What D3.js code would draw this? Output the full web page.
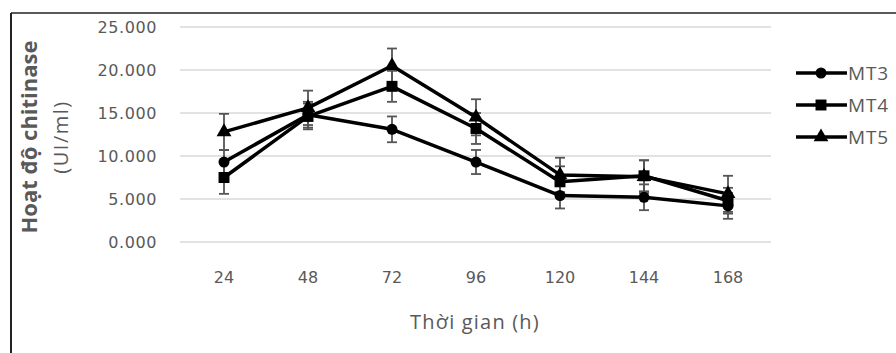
<!DOCTYPE html>
<html><head><meta charset="utf-8">
<script src="https://cdn.jsdelivr.net/npm/d3@7"></script>
<style>body{margin:0;background:#fff}svg{display:block}</style>
</head><body>
<script>
const categories = ["24","48","72","96","120","144","168"];
const seriesNames = ["MT3","MT4","MT5"];
const mt3 = [9.3, 14.8, 13.1, 9.3, 5.4, 5.2, 4.2];
const mt4 = [7.5, 14.6, 18.1, 13.2, 7.0, 7.7, 4.8];
const mt5 = [12.8, 15.6, 20.5, 14.5, 7.8, 7.6, 5.6];
const err3 = [1.4, 1.5, 1.5, 1.4, 1.5, 1.5, 1.5];
const err4 = [1.9, 1.5, 1.8, 1.8, 1.8, 1.8, 1.5];
const err5 = [2.1, 2.0, 2.0, 2.1, 2.0, 1.9, 2.1];
const yTicks = [0, 5, 10, 15, 20, 25];
const yTitle = "Hoạt độ chitinase";
const yUnit = "(UI/ml)";
const xTitle = "Thời gian (h)";

const W = 896, H = 353;
const svg = d3.select("body").append("svg").attr("width", W).attr("height", H);
svg.append("rect").attr("width", W).attr("height", H).attr("fill", "#fff");
// border
svg.append("line").attr("x1", 11).attr("x2", 11).attr("y1", 13).attr("y2", H)
  .attr("stroke", "#222").attr("stroke-width", 2);
svg.append("line").attr("x1", 11).attr("x2", W).attr("y1", 13).attr("y2", 13)
  .attr("stroke", "#222").attr("stroke-width", 1.5);

const x = d3.scaleBand().domain(categories).range([182, 770]);
const y = d3.scaleLinear().domain([0, 25]).range([242, 27]);
const textCol = "#595959";

// grid
svg.append("g").selectAll("line").data(yTicks).join("line")
  .attr("x1", 180).attr("x2", 771)
  .attr("y1", d => y(d)).attr("y2", d => y(d))
  .attr("stroke", "#d9d9d9").attr("stroke-width", 1.5);

// y axis labels
const yAxis = d3.axisLeft(y).tickValues(yTicks).tickFormat(d3.format(".3f")).tickSize(0).tickPadding(0);
const gy = svg.append("g").attr("transform", "translate(157,0)").call(yAxis);
gy.select(".domain").remove();
gy.selectAll("text").attr("font-family", "DejaVu Sans").attr("font-size", 16)
  .attr("fill", textCol).attr("letter-spacing", 0.6);

// x axis labels
const xAxis = d3.axisBottom(x).tickSize(0).tickPadding(0);
const gx = svg.append("g").attr("transform", "translate(0,272)").call(xAxis);
gx.select(".domain").remove();
gx.selectAll("text").attr("font-family", "DejaVu Sans").attr("font-size", 16)
  .attr("fill", textCol);

// titles
svg.append("text").attr("transform", "translate(37,137) rotate(-90)")
  .attr("text-anchor", "middle").attr("font-family", "Open Sans").attr("font-weight", "bold")
  .attr("font-size", 22).attr("fill", textCol).text(yTitle);
svg.append("text").attr("transform", "translate(68,137) rotate(-90)")
  .attr("text-anchor", "middle").attr("font-family", "Open Sans")
  .attr("font-size", 20).attr("letter-spacing", 1.5).attr("fill", textCol).text(yUnit);
svg.append("text").attr("x", 475).attr("y", 329)
  .attr("text-anchor", "middle").attr("font-family", "Open Sans")
  .attr("font-size", 20).attr("letter-spacing", 1.2).attr("fill", textCol).text(xTitle);

const series = [
  {name: seriesNames[0], vals: mt3, errs: err3, sym: d3.symbolCircle, size: 95},
  {name: seriesNames[1], vals: mt4, errs: err4, sym: d3.symbolSquare, size: 120},
  {name: seriesNames[2], vals: mt5, errs: err5, sym: d3.symbolTriangle, size: 95}
];
const cx = c => x(c) + x.bandwidth() / 2;

// error bars
series.forEach(s => {
  const g = svg.append("g").attr("stroke", "#555").attr("stroke-width", 1.8);
  categories.forEach((c, i) => {
    const xc = cx(c), hi = y(s.vals[i] + s.errs[i]), lo = y(s.vals[i] - s.errs[i]);
    g.append("line").attr("x1", xc).attr("x2", xc).attr("y1", hi).attr("y2", lo);
    g.append("line").attr("x1", xc - 5).attr("x2", xc + 5).attr("y1", hi).attr("y2", hi);
    g.append("line").attr("x1", xc - 5).attr("x2", xc + 5).attr("y1", lo).attr("y2", lo);
  });
});

const line = d3.line().x((d, i) => cx(categories[i])).y(d => y(d));
series.forEach(s => {
  svg.append("path").datum(s.vals).attr("d", line)
    .attr("fill", "none").attr("stroke", "#000").attr("stroke-width", 3.5)
    .attr("stroke-linejoin", "round");
  svg.append("g").selectAll("path").data(s.vals).join("path")
    .attr("transform", (d, i) => `translate(${cx(categories[i])},${y(d)})`)
    .attr("d", d3.symbol().type(s.sym).size(s.size)).attr("fill", "#000");
});

// legend
series.forEach((s, i) => {
  const ly = 73 + i * 32;
  const g = svg.append("g");
  g.append("line").attr("x1", 796).attr("x2", 847).attr("y1", ly).attr("y2", ly)
    .attr("stroke", "#000").attr("stroke-width", 3.5);
  g.append("path").attr("transform", `translate(821,${ly})`)
    .attr("d", d3.symbol().type(s.sym).size(s.size)).attr("fill", "#000");
  g.append("text").attr("x", 848).attr("y", ly + 7).attr("font-family", "Open Sans")
    .attr("font-size", 19).attr("letter-spacing", 0.8).attr("fill", textCol).text(s.name);
});
</script>
</body></html>
